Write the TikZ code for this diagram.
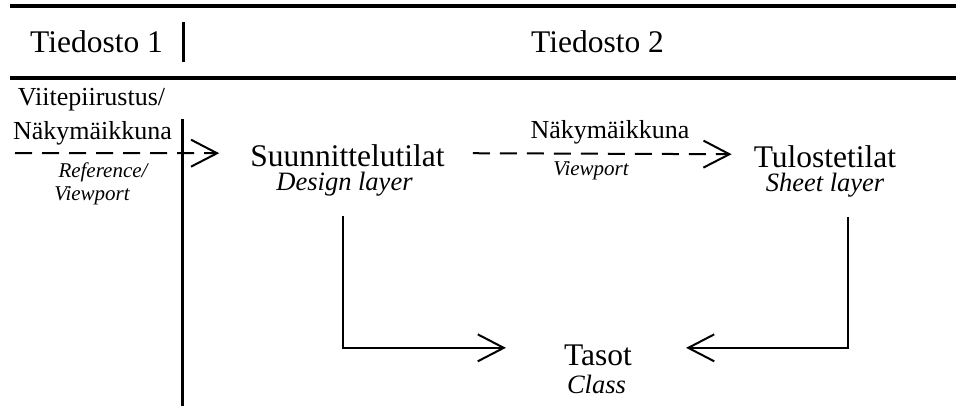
\documentclass[tikz,border=0pt]{standalone}
\usepackage{fontspec}
\setmainfont{Liberation Serif}
\usepackage{tikz}
\usetikzlibrary{arrows.meta}
\tikzset{
  title/.style ={inner sep=0pt,anchor=base,font=\fontsize{31.5}{36}\selectfont},
  label/.style ={inner sep=0pt,anchor=base,font=\fontsize{26}{30}\selectfont},
  layer/.style ={inner sep=0pt,anchor=base,font=\fontsize{26.5}{30}\selectfont\itshape},
  hint/.style  ={inner sep=0pt,anchor=base,font=\fontsize{21}{25}\selectfont\itshape},
  rule/.style  ={line width=4pt},
  bar/.style   ={line width=3pt},
  flow/.style  ={-{Straight Barb[length=26pt,width=27pt,line width=2pt]},line width=2pt},
  link/.style  ={flow,dash pattern=on 17pt off 10pt},
}
\begin{document}
\begin{tikzpicture}[x=1pt,y=-1pt]
  \useasboundingbox (0,0) rectangle (956,412);

  % ---- header --------------------------------------------------------
  \draw[rule] (10,6) -- (956,6);
  \draw[rule] (10,78) -- (956,78);
  \node[title] (file1) at (96.5,53) {Tiedosto 1};
  \node[title] (file2) at (597.5,53) {Tiedosto 2};
  \draw[bar] (183,22) -- (183,62);
  \draw[bar] (182,119) -- (182,406);

  % ---- layers ----------------------------------------------------------
  \node[title] (suun)   at (347.5,166) {Suunnittelutilat};
  \node[layer] (suunen) at (344.5,190) {Design layer};
  \node[title] (tulo)   at (825,167) {Tulostetilat};
  \node[layer] (tuloen) at (825,191) {Sheet layer};
  \node[title] (taso)   at (598,365) {Tasot};
  \node[layer] (tasoen) at (596.5,393) {Class};

  % ---- reference from the other file -----------------------------------
  \node[label] (ref1)   at (91.5,106) {Viitepiirustus/};
  \node[label] (ref2)   at (92.5,139) {Näkymäikkuna};
  \node[hint]  (ref1en) at (103,177) {Reference/};
  \node[hint]  (ref2en) at (92,200) {Viewport};
  \coordinate (refin) at (15,153);
  \draw[link] (refin) -- ([xshift=-31pt,yshift=2pt]suun.west);

  % ---- viewport --------------------------------------------------------
  \node[label] (vp)   at (610,138) {Näkymäikkuna};
  \node[hint]  (vpen) at (591,175) {Viewport};
  \draw[link] ([xshift=28pt,yshift=2pt]suun.east) -- ([xshift=-22pt,yshift=2pt]tulo.west);

  % ---- classes ---------------------------------------------------------
  \draw[flow] ([xshift=-1.5pt,yshift=-20pt]suunen.south) |- ([xshift=-58pt,yshift=7pt]taso.west);
  \draw[flow] ([xshift=23pt,yshift=-20pt]tuloen.south) |- ([xshift=54pt,yshift=7pt]taso.east);
\end{tikzpicture}
\end{document}
